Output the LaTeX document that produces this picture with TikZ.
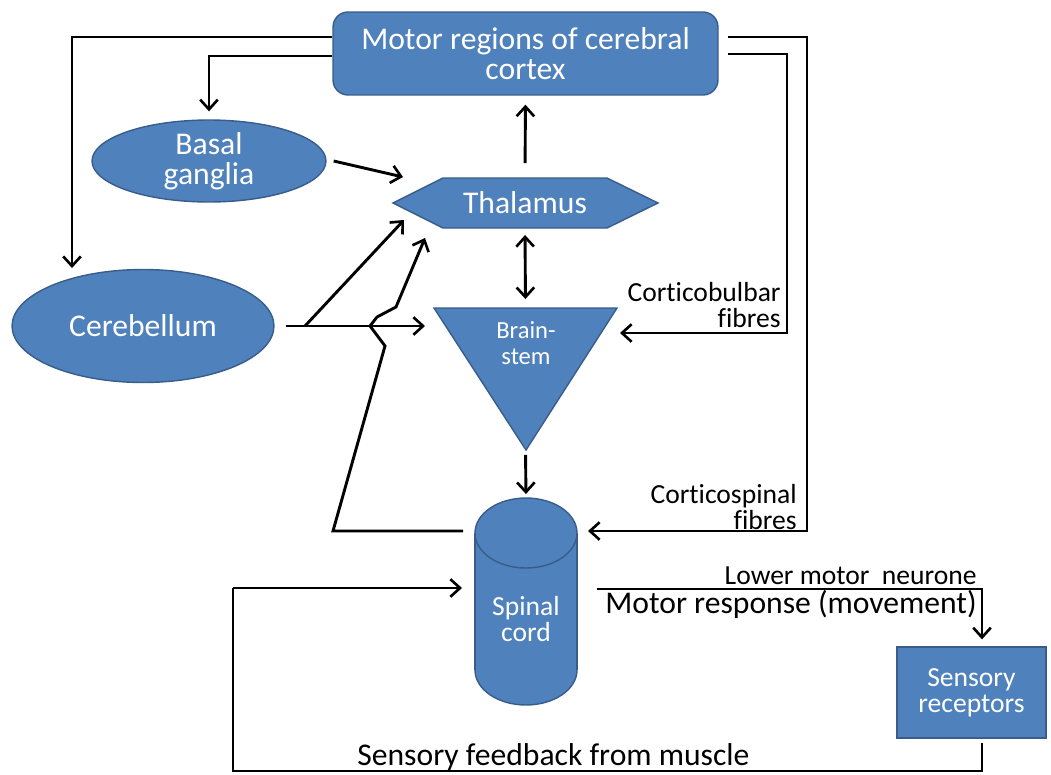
\documentclass[tikz,border=0pt]{standalone}
\usepackage{fontspec}
\setmainfont{Carlito}[Ligatures=NoCommon]
\usetikzlibrary{arrows.meta,shapes.geometric,calc}
\definecolor{nodeblue}{RGB}{79,129,189}
\definecolor{nodeedge}{RGB}{56,93,138}

\tikzset{
  shapefill/.style={fill=nodeblue, draw=nodeedge, line width=0.8pt},
  link/.style={line width=1.65pt, line join=miter},
  tip/.tip={Straight Barb[length=5.5pt,width=10pt,line width=1.5pt]},
  arr/.style={link, -tip},
  darr/.style={link, tip-tip},
  intext/.style={text=white, align=center, inner sep=0pt},
  outtext/.style={text=black, inner sep=0pt},
  big/.style={font=\fontsize{18pt}{17pt}\selectfont},
  mid/.style={font=\fontsize{15.7pt}{15pt}\selectfont},
  small/.style={font=\fontsize{14pt}{15pt}\selectfont},
  hold/.style={inner sep=0pt, outer sep=0pt},
}

\begin{document}
\begin{tikzpicture}[x=0.02cm, y=-0.02cm]
\useasboundingbox (0,0) rectangle (1051,774);

% ---- shapes drawn as paths ----
% thalamus hexagon
\filldraw[shapefill] (393,203) -- (443,178) -- (607,178) -- (658,203) -- (607,228) -- (443,228) -- cycle;
% brainstem triangle
\filldraw[shapefill] (434,308) -- (617,308) -- (526,450) -- cycle;
% spinal cord cylinder
\filldraw[shapefill] (526,670) ellipse [x radius=1.02cm, y radius=0.7cm];
\fill[nodeblue] (475.5,533) rectangle (576.5,670);
\draw[nodeedge, line width=0.8pt] (475,533) -- (475,670) (577,533) -- (577,670);
\filldraw[shapefill] (526,533) ellipse [x radius=1.02cm, y radius=0.7cm];

% ---- nodes ----
\node[shapefill, rectangle, rounded corners=0.3cm, minimum width=7.7cm, minimum height=1.66cm, intext, big]
  (motor) at (525.5,53.5) {Motor regions of cerebral\\cortex};
\node[shapefill, ellipse, minimum width=4.68cm, minimum height=1.64cm, intext, big, inner sep=0pt]
  (basal) at (209,161) {Basal\\ganglia};
\node[shapefill, ellipse, minimum width=5.24cm, minimum height=2.26cm, intext, big, inner sep=0pt]
  (cereb) at (143,326) {Cerebellum};
\node[hold, minimum width=3.28cm, minimum height=1cm, intext, big] (thal) at (525,203) {Thalamus};
\node[hold, minimum width=3.66cm, minimum height=2.84cm] (bstem) at (525.5,379) {};
\node[intext, small] (bstemlabel) at (526,343) {Brain-\\stem};
\node[hold, minimum width=2.04cm, minimum height=4.14cm] (spinal) at (526,601.5) {};
\node[intext, mid] (spinallabel) at (526,619) {Spinal\\cord};
\node[shapefill, rectangle, minimum width=2.98cm, minimum height=1.82cm, intext, mid]
  (sensory) at (971.5,692.5) {Sensory\\receptors};

% ---- connectors ----
\coordinate (cbtip) at (72,268);
\coordinate (thalin1) at (403,177);
\coordinate (thalin2) at (404,220);
\coordinate (thalin3) at (425,238);
\coordinate (bsin) at (425,326);
\coordinate (bsright) at (620,333);
\coordinate (scright) at (588,531);
\coordinate (scleft) at (462,588);

\draw[arr] (motor.west |- 0,37) -| (cbtip);
\draw[arr, shorten >=0.16cm] (motor.west |- 0,56) -| (basal.north);
\draw[arr] ([xshift=0.14cm]basal.east) -- (thalin1);
\draw[arr, shorten <=0.3cm, shorten >=0.18cm] (thal.north) -- (motor.south);
\draw[darr, shorten <=0.14cm, shorten >=0.18cm] (thal.south) -- (bstem.north);
\draw[arr, shorten <=0.1cm, shorten >=0.08cm] (bstem.south) -- (spinal.north);

% cerebellum outputs
\draw[arr] ([xshift=0.22cm]cereb.east) -- (bsin);
\draw[arr] (305,326) -- (thalin2);

% spinal cord to thalamus, hopping over the cerebellum line
\draw[arr] ($(spinal.west |- 0,531)+(-12,0)$) -- (333,531) -- (385,346)
  -- (370,326) -- (377,317) -- (396,307) -- (thalin3);

% corticobulbar and corticospinal fibres
\draw[arr] ([xshift=0.18cm]motor.east |- 0,54) -- (787,54) -- (787,333) -- (bsright);
\draw[arr] ([xshift=0.18cm]motor.east |- 0,37) -- (807,37) -- (807,531) -- (scright);

% lower motor neurone and sensory feedback
\draw[arr, shorten >=0.14cm] ($(spinal.east |- 0,589)+(20,0)$) -- (982,589) -- (sensory.north -| 982,0);
\draw[link] ($(sensory.south -| 982,0)+(0,4)$) -- (982,771) -- (233,771) -- (233,588);
\draw[arr] (233,588) -- (scleft);

% ---- free labels ----
\node[outtext, mid, align=right, anchor=east] (cbl) at (781,305) {Corticobulbar\\fibres};
\node[outtext, mid, align=right, anchor=east] (csl) at (797,507) {Corticospinal\\fibres};
\node[outtext, mid, anchor=base east] (lmn) at (977,584) {Lower motor\ \ neurone};
\node[outtext, big, anchor=base east] (resp) at (977,613) {Motor response (movement)};
\node[outtext, big, anchor=west] (feed) at (357,757) {Sensory feedback from muscle};
\end{tikzpicture}
\end{document}
